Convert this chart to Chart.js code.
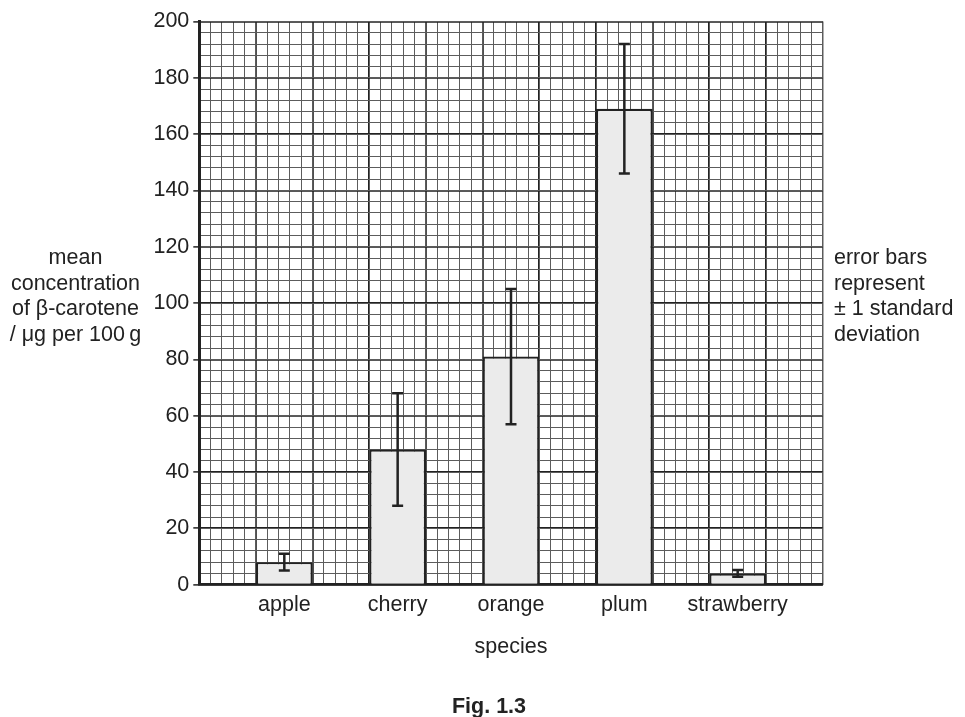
<!DOCTYPE html>
<html>
<head>
<meta charset="utf-8">
<title>Fig. 1.3</title>
<script src="https://cdn.jsdelivr.net/npm/chart.js@4.4.1/dist/chart.umd.min.js"></script>
<style>
  html, body { margin: 0; padding: 0; background: #fff; }
  #wrap { position: relative; width: 965px; height: 717px; font-family: "Liberation Sans", Arial, sans-serif; color: #222; }
  #wrap canvas { position: absolute; left: 0; top: 0; }
  .note { position: absolute; font-size: 21.5px; line-height: 25.5px; white-space: nowrap; }
  #ytitle { left: 0; width: 151px; top: 245px; text-align: center; }
  #legend { left: 834px; top: 245px; }
  #xtitle { left: 411px; width: 200px; top: 634px; text-align: center; }
  #caption { left: 389px; width: 200px; top: 694px; text-align: center; font-weight: bold; }
</style>
</head>
<body>
<div id="wrap">
  <canvas id="chart"></canvas>
  <div class="note" id="ytitle">mean<br>concentration<br>of β-carotene<br>/ μg per 100&thinsp;g</div>
  <div class="note" id="legend">error bars<br>represent<br>± 1 standard<br>deviation</div>
  <div class="note" id="xtitle">species</div>
  <div class="note" id="caption">Fig. 1.3</div>
</div>
<script>
// values
const categories = ['apple', 'cherry', 'orange', 'plum', 'strawberry'];
const meanValues = [8, 48, 81, 169, 4];
const sdValues = [3, 20, 24, 23, 1.2];
const yTickValues = [0, 20, 40, 60, 80, 100, 120, 140, 160, 180, 200];

// graph paper: 11 big squares across, bars sit in every other square
const GRID_COLS = 11;
const slotOf = i => 2 * i + 1.5;

const FONT = { family: '"Liberation Sans", Arial, sans-serif', size: 21.5 };
const INK = '#222';
const MINOR = '#5c5c5c';

const errorBars = {
    id: 'errorBars',
    afterDatasetsDraw(chart) {
        const { ctx } = chart;
        const y = chart.scales.y;
        const meta = chart.getDatasetMeta(0);
        const cap = 5.5;
        ctx.save();
        ctx.strokeStyle = INK;
        ctx.lineWidth = 2.5;
        meta.data.forEach((bar, i) => {
            const top = y.getPixelForValue(meanValues[i] + sdValues[i]);
            const bot = y.getPixelForValue(meanValues[i] - sdValues[i]);
            ctx.beginPath();
            ctx.moveTo(bar.x, top);
            ctx.lineTo(bar.x, bot);
            ctx.moveTo(bar.x - cap, top);
            ctx.lineTo(bar.x + cap, top);
            ctx.moveTo(bar.x - cap, bot);
            ctx.lineTo(bar.x + cap, bot);
            ctx.stroke();
        });
        ctx.restore();
    }
};

const ctx = document.getElementById('chart').getContext('2d');

new Chart(ctx, {
    type: 'bar',
    data: {
        datasets: [{
            label: 'mean concentration of β-carotene',
            data: categories.map((c, i) => ({ x: slotOf(i), y: meanValues[i] })),
            backgroundColor: '#ebebeb',
            borderColor: INK,
            borderWidth: 2.2,
            categoryPercentage: 1,
            barPercentage: 0.5
        }]
    },
    options: {
        responsive: true,
        maintainAspectRatio: false,
        animation: false,
        events: [],
        layout: { padding: { top: 21.5, right: 142.3, left: 0, bottom: 0 } },
        plugins: {
            legend: { display: false },
            tooltip: { enabled: false }
        },
        scales: {
            x: {
                type: 'linear',
                position: 'bottom',
                min: 0,
                max: GRID_COLS,
                offset: false,
                afterBuildTicks: s => { s.ticks = categories.map((c, i) => ({ value: slotOf(i) })); },
                afterFit: s => { s.height = 132.3; },
                grid: { display: false, drawTicks: false, offset: false },
                border: { display: true, color: INK, width: 2.5 },
                ticks: {
                    autoSkip: false,
                    maxRotation: 0,
                    padding: 7,
                    color: INK,
                    font: FONT,
                    callback: (v, i) => categories[i]
                }
            },
            xMajor: {
                type: 'linear',
                position: 'bottom',
                min: 0,
                max: GRID_COLS,
                offset: false,
                z: -1,
                afterFit: s => { s.height = 0; },
                ticks: { display: false, stepSize: 1 },
                grid: {
                    offset: false,
                    drawTicks: false,
                    lineWidth: 1.8,
                    color: c => (c.tick && c.tick.value === GRID_COLS ? '#9a9a9a' : INK)
                },
                border: { display: false }
            },
            xMinor: {
                type: 'linear',
                position: 'bottom',
                min: 0,
                max: GRID_COLS,
                offset: false,
                z: -2,
                afterFit: s => { s.height = 0; },
                ticks: { display: false, stepSize: 0.2 },
                grid: { offset: false, drawTicks: false, lineWidth: 1, color: MINOR },
                border: { display: false }
            },
            y: {
                type: 'linear',
                position: 'left',
                min: 0,
                max: 200,
                afterBuildTicks: s => { s.ticks = yTickValues.map(v => ({ value: v })); },
                afterFit: s => { s.width = 199.3; },
                grid: {
                    color: INK,
                    lineWidth: 1.8,
                    drawTicks: true,
                    tickLength: 6,
                    tickColor: INK,
                    tickWidth: 1.5
                },
                border: { display: true, color: INK, width: 3 },
                ticks: { padding: 4, color: INK, font: FONT }
            },
            yMinor: {
                type: 'linear',
                position: 'left',
                min: 0,
                max: 200,
                z: -2,
                afterFit: s => { s.width = 0; },
                ticks: { display: false, stepSize: 4 },
                grid: { drawTicks: false, lineWidth: 1, color: MINOR },
                border: { display: false }
            }
        }
    },
    plugins: [errorBars]
});
</script>
</body>
</html>
